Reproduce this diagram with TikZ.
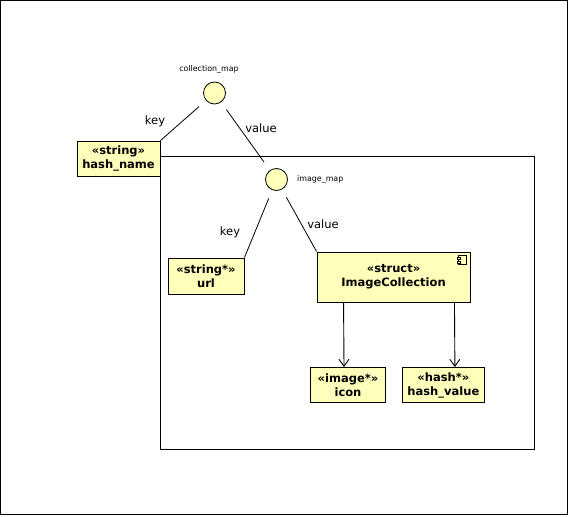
\documentclass[tikz,border=0pt]{standalone}
\usepackage{fontspec}
\setmainfont{DejaVu Sans}
\usepackage{tikz}
\usetikzlibrary{
arrows.meta,
positioning
}
\definecolor{umlyellow}{RGB}{255,255,187}

\begin{document}
\begin{tikzpicture}[
x=1pt,y=-1pt,
box/.style={
draw,
line width=0.9pt,
fill=umlyellow,
inner sep=0pt,
minimum height=35pt,
align=center,
font=\fontsize{11.5}{14}\selectfont\bfseries
},
hub/.style={draw,circle,fill=umlyellow,line width=0.8pt,minimum size=22pt,inner sep=0pt},
link/.style={line width=0.8pt,shorten <=9pt},
arrow/.style={-{Straight Barb[length=7pt,width=10pt]},line width=0.9pt},
lbl/.style={font=\fontsize{11.5}{14}\selectfont,inner sep=0pt},
tinylbl/.style={font=\fontsize{7.9}{9}\selectfont,inner sep=0pt}
]

\useasboundingbox (0,0) rectangle (569,516);
\draw[line width=0.8pt] (0.5,0.5) rectangle (567.5,514.5);

% package frame
\draw[line width=0.8pt] (160.5,156) rectangle (534,449);

\node[hub] (collmap) at (214.5,93) {};
\node[tinylbl] (collmaplbl) at (209,69) {collection\_map};

\node[hub] (imgmap) at (276.5,179.5) {};
\node[tinylbl,anchor=west] (imgmaplbl) at (297,179.5) {image\_map};

\node[box,minimum width=83pt] (hashname) at (118.5,158.5) {«string»\\hash\_name};
\node[box,minimum width=76pt,minimum height=36pt] (url) at (206,276) {«string*»\\url};
\node[box,minimum width=153pt,minimum height=50pt] (imgcoll) at (393.5,277) {«struct»\\ImageCollection};
\node[box,minimum width=75pt] (icon) at (348,385) {«image*»\\icon};
\node[box,minimum width=82pt,right=16pt of icon] (hashval) {«hash*»\\hash\_value};

% component symbol
\draw[line width=0.7pt,fill=umlyellow] ([xshift=-12pt,yshift=-3.5pt]imgcoll.north east) rectangle ++(8,9.5);
\draw[line width=0.6pt,fill=umlyellow] ([xshift=-13.5pt,yshift=-5.5pt]imgcoll.north east) rectangle ++(3,2);
\draw[line width=0.6pt,fill=umlyellow] ([xshift=-13.5pt,yshift=-9.5pt]imgcoll.north east) rectangle ++(3,2);

\draw[link] (collmap) -- (hashname.north east);
\draw[link,shorten >=10pt] (collmap) -- (imgmap);
\draw[link] (imgmap) -- (url.north east);
\draw[link] (imgmap) -- (imgcoll.north west);

\node[lbl] (keyA) at (155,121.5) {key};
\node[lbl] (valA) at (261,128.5) {value};
\node[lbl] (keyB) at (230,232) {key};
\node[lbl] (valB) at (323,224) {value};

\draw[arrow] ([xshift=27pt]imgcoll.south west) -- ([xshift=-4pt]icon.north);
\draw[arrow] ([xshift=-16pt]imgcoll.south east) -- ([xshift=11.5pt]hashval.north);

\end{tikzpicture}
\end{document}
